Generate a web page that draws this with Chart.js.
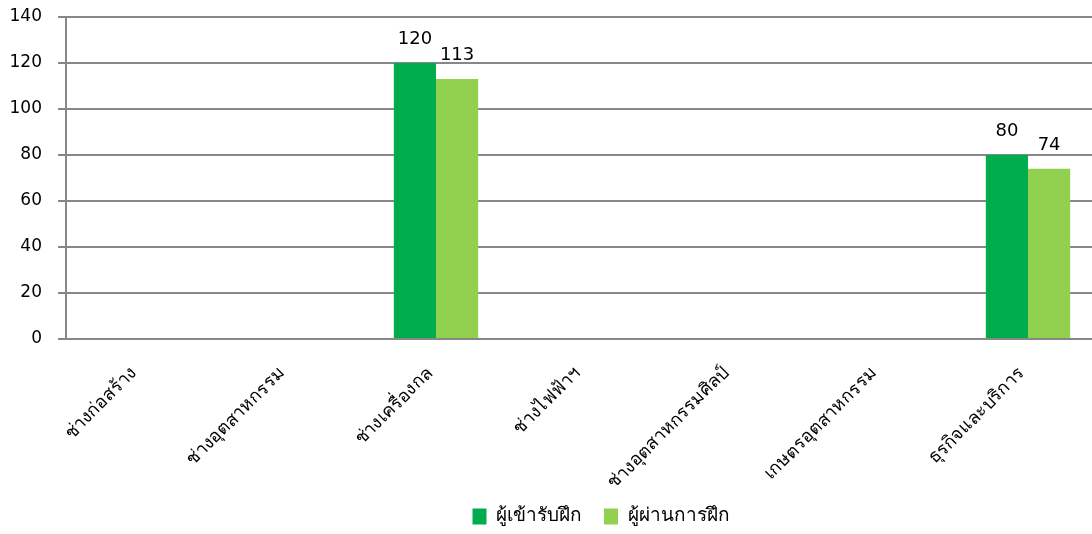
<!DOCTYPE html>
<html>
<head>
<meta charset="utf-8">
<script src="https://cdn.jsdelivr.net/npm/chart.js@4/dist/chart.umd.min.js"></script>
<style>
    html, body { margin: 0; padding: 0; background: #fff; overflow: hidden; }
    #wrap { width: 1102px; height: 534px; }
</style>
</head>
<body>
<div id="wrap"><canvas id="trainingChart"></canvas></div>
<script>
const categories = ['ช่างก่อสร้าง', 'ช่างอุตสาหกรรม', 'ช่างเครื่องกล', 'ช่างไฟฟ้าฯ', 'ช่างอุตสาหกรรมศิลป์', 'เกษตรอุตสาหกรรม', 'ธุรกิจและบริการ'];
const enrolled = [0, 0, 120, 0, 0, 0, 80];
const passed = [0, 0, 113, 0, 0, 0, 74];
const yTicks = [0, 20, 40, 60, 80, 100, 120, 140];

const fontFamily = "Tahoma, 'DejaVu Sans', 'Noto Sans', sans-serif";

// value labels above bars, zeros are skipped
const valueLabels = {
    id: 'valueLabels',
    afterDatasetsDraw(chart) {
        const ctx = chart.ctx;
        ctx.save();
        ctx.font = '18px ' + fontFamily;
        ctx.fillStyle = '#000';
        ctx.textAlign = 'center';
        ctx.textBaseline = 'alphabetic';
        chart.data.datasets.forEach((ds, i) => {
            chart.getDatasetMeta(i).data.forEach((bar, j) => {
                if (ds.data[j]) ctx.fillText(ds.data[j], bar.x, bar.y - 19);
            });
        });
        ctx.restore();
    }
};

// legend sits a bit right of the page centre in the original
const legendShift = {
    id: 'legendShift',
    afterLayout(chart) {
        chart.legend.left += 46;
        chart.legend.right += 46;
    }
};

const ctx = document.getElementById('trainingChart').getContext('2d');
const trainingChart = new Chart(ctx, {
    type: 'bar',
    data: {
        labels: categories,
        datasets: [{
            label: 'ผู้เข้ารับฝึก',
            data: enrolled,
            backgroundColor: '#00ad4e'
        }, {
            label: 'ผู้ผ่านการฝึก',
            data: passed,
            backgroundColor: '#92d050'
        }]
    },
    options: {
        responsive: true,
        maintainAspectRatio: false,
        animation: false,
        categoryPercentage: 0.57,
        barPercentage: 1,
        layout: { padding: { top: 17, left: 8, right: 0, bottom: -2 } },
        plugins: {
            legend: {
                position: 'bottom',
                labels: {
                    boxWidth: 14,
                    boxHeight: 16,
                    padding: 22,
                    color: '#000',
                    font: { size: 19, family: fontFamily }
                }
            },
            tooltip: { enabled: false }
        },
        scales: {
            y: {
                min: 0,
                max: 140,
                afterBuildTicks: axis => { axis.ticks = yTicks.map(v => ({ value: v })); },
                afterFit: axis => {
                    axis.width = 58;
                    axis.paddingTop = 0;
                    axis.paddingBottom = 0;
                },
                border: { color: '#878787', width: 2 },
                grid: { color: '#878787', lineWidth: 2, tickLength: 8 },
                ticks: { color: '#000', padding: 16, font: { size: 17, family: fontFamily } }
            },
            x: {
                border: { color: '#878787', width: 2 },
                grid: { display: false },
                afterFit: axis => {
                    axis.paddingLeft = 0;
                    axis.paddingRight = 0;
                    axis.height = 146;
                },
                ticks: {
                    color: '#000',
                    minRotation: 45,
                    maxRotation: 45,
                    autoSkip: false,
                    padding: 16,
                    labelOffset: -6,
                    font: { size: 18, family: fontFamily }
                }
            }
        }
    },
    plugins: [valueLabels, legendShift]
});
</script>
</body>
</html>
